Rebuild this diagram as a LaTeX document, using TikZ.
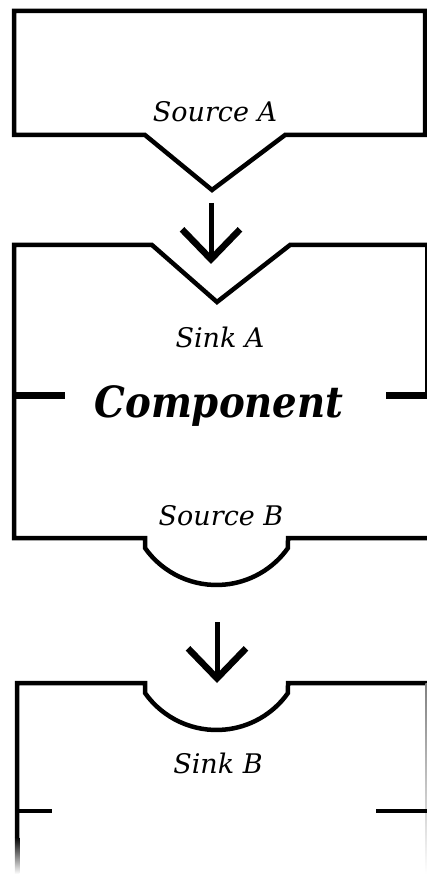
\documentclass[tikz,border=0pt]{standalone}
\usepackage{fontspec}
\setmainfont{DejaVu Serif}
\newfontfamily\compfont{DejaVu Serif Condensed}
\usetikzlibrary{arrows.meta}
\tikzset{
  wall/.style={line width=4.5pt},
  joint/.style={line width=7pt},
  lbl/.style={font=\fontsize{27}{30}\selectfont\itshape, anchor=base},
}
\begin{document}
\begin{tikzpicture}[x=1pt, y=-1pt, >={Straight Barb[length=30pt,width=58pt,line width=0pt 1.3]}]
    \useasboundingbox (0,0) rectangle (427,874);
    \clip (0,0) rectangle (427,874);
    % source A box
    \draw[wall] (14,11) -- (425,11) -- (425,135) -- (285,135) -- (212,190) -- (145,135) -- (14,135) -- cycle;
    \node[lbl] (srcA) at (215,122) {Source A};
    % arrow A
    \coordinate (outA) at (211,203);
    \coordinate (inA) at (211,264);
    \draw[->, line width=5pt] (outA) -- (inA);
    % component box
    \draw[wall] (427,245) -- (290,245) -- (217,302) -- (152,245) -- (14,245) -- (14,538) -- (145,538) -- (145,548)
        arc[start angle=144.7, end angle=35.3, radius=87.6] -- (288,538) -- (427,538);
    \draw[line width=1.5pt] (426,245) -- (426,395);
    \draw[joint] (14,395) -- (65,395);
    \draw[joint] (386,395) -- (427,395);
    \node[lbl] (sinkA) at (220,347) {Sink A};
    \node[font=\compfont\fontsize{43}{46}\selectfont\bfseries\itshape, anchor=base] (comp) at (219,417) {Component};
    \node[lbl] (srcB) at (221,525) {Source B};
    % arrow B
    \coordinate (outB) at (217,622);
    \coordinate (inB) at (217,683);
    \draw[->, line width=5pt] (outB) -- (inB);
    % sink B box
    \draw[wall] (17,837) -- (17,683) -- (145,683) -- (145,693)
        arc[start angle=144.7, end angle=35.3, radius=87.6] -- (288,683) -- (427,683);
    \shade[top color=black, bottom color=white] (14.75,837) rectangle (19.25,874);
    \shade[top color=gray, bottom color=white] (425.25,683) rectangle (426.75,874);
    \draw[wall] (17,811) -- (52,811);
    \draw[wall] (376,811) -- (427,811);
    \node[lbl] (sinkB) at (218,773) {Sink B};
\end{tikzpicture}
\end{document}
